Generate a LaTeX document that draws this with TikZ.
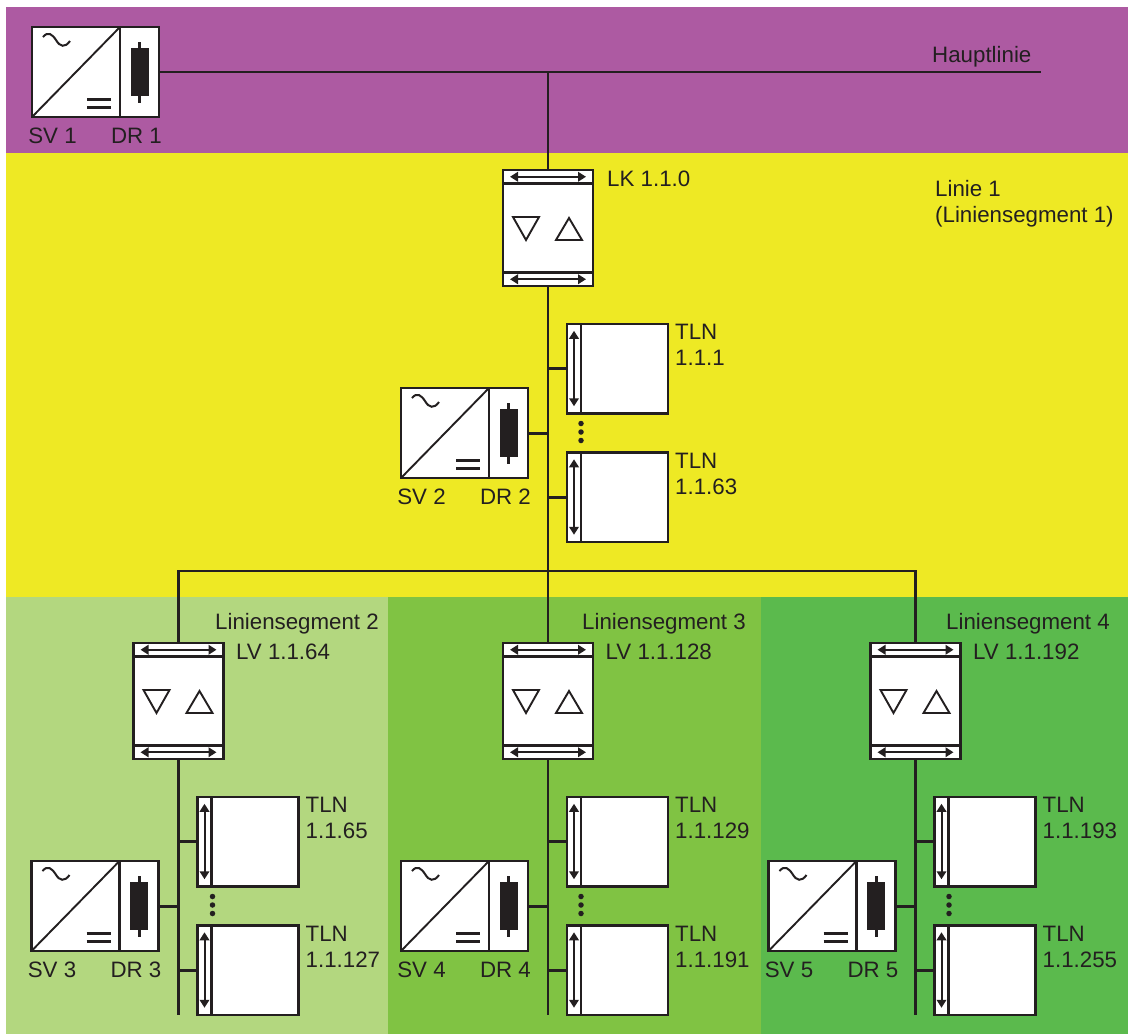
\documentclass[tikz,border=0pt]{standalone}
\usepackage{fontspec}
\setmainfont{Liberation Sans}
\usetikzlibrary{positioning, arrows.meta}
\definecolor{ink}{HTML}{231F20}
\definecolor{hauptbg}{HTML}{AD5AA2}
\definecolor{liniebg}{HTML}{EEE924}
\definecolor{seglight}{HTML}{B3D77F}
\definecolor{segmid}{HTML}{80C343}
\definecolor{segdark}{HTML}{5BBA4D}
\tikzstyle{lbl} = [inner sep=0pt, text=ink, font=\fontsize{22.3}{26}\selectfont, align=left]
\tikzstyle{box} = [rectangle, draw=ink, fill=white, line width=2.5pt, inner sep=0pt, outer sep=0pt]
\tikzstyle{svbox} = [box, minimum width=88pt, minimum height=90pt]
\tikzstyle{drbox} = [box, minimum width=39pt, minimum height=90pt]
\tikzstyle{lvbox} = [box, minimum width=90pt, minimum height=116pt]
\tikzstyle{portbar} = [box, minimum width=90pt, minimum height=13.5pt]
\tikzstyle{tlnbox} = [box, minimum width=101pt, minimum height=89.5pt]
\tikzstyle{tlnport} = [box, minimum width=14pt, minimum height=89.5pt]
\tikzstyle{core} = [rectangle, fill=ink, inner sep=0pt, outer sep=0pt]
\tikzstyle{wire} = [draw=ink, line width=2.5pt]
\tikzstyle{stub} = [draw=ink, line width=3pt]
\tikzstyle{thin arrow} = [draw=ink, line width=2pt, {Stealth[length=8pt,width=9.5pt,inset=0pt]}-{Stealth[length=8pt,width=9.5pt,inset=0pt]}, shorten <=7pt, shorten >=7pt]
\tikzstyle{glyph} = [draw=ink, line width=1.9pt]
\tikzstyle{dotmark} = [circle, fill=ink, inner sep=0pt, minimum size=5.5pt]

% supply: names, position, labels
\newcommand{\supply}[5]{
\node[svbox, #3] (#1) {};
\node[drbox, anchor=west] (#2) at (#1.east) {};
\draw[glyph] (#1.south west) -- (#1.north east);
\node[core, minimum width=18pt, minimum height=48pt] (#2c) at (#2.center) {};
\node[core, minimum width=3pt, minimum height=61pt] (#2s) at (#2.center) {};
\begin{scope}[shift={(#1.center)}]
\draw[glyph, line width=2pt] (-33,-35) .. controls (-28,-41) and (-24,-38) .. (-20,-32) .. controls (-16,-25) and (-11,-24) .. (-6,-31);
\draw[stub] (11,27) -- (35,27) (11,35) -- (35,35);
\end{scope}
\node[lbl, anchor=base, xshift=-23.5pt, yshift=-26pt] (#1l) at (#1.south) {#4};
\node[lbl, anchor=base, xshift=-3pt, yshift=-26pt] (#2l) at (#2.south) {#5};
}

% coupler: name, position, label, label gap
\newcommand{\coupler}[4]{
\node[lvbox, #2] (#1) {};
\node[portbar, anchor=north] (#1t) at (#1.north) {};
\node[portbar, anchor=south] (#1b) at (#1.south) {};
\draw[wire, line width=3.4pt] (#1t.south west) -- (#1t.south east);
\draw[wire, line width=3.4pt] (#1b.north west) -- (#1b.north east);
\draw[thin arrow] (#1t.west) -- (#1t.east);
\draw[thin arrow] (#1b.west) -- (#1b.east);
\begin{scope}[shift={(#1.center)}]
\draw[glyph] (-35,-11) -- (-9,-11) -- (-22,12) -- cycle;
\draw[glyph] (8,12) -- (34,12) -- (21,-10) -- cycle;
\end{scope}
\node[lbl, anchor=base west, xshift=#4, yshift=-16pt] (#1l) at (#1.north east) {#3};
}

% device: name, position, label
\newcommand{\device}[3]{
\node[tlnbox, #2] (#1) {};
\node[tlnport, anchor=west] (#1p) at (#1.west) {};
\draw[thin arrow] (#1p.north) -- (#1p.south);
\node[lbl, anchor=north west, xshift=7pt, yshift=-0.5pt] (#1l) at (#1.north east) {#3};
}

% three dots between two devices
\newcommand{\dotcolumn}[2]{
\node[dotmark] (#1a) at (#2) {};
\node[dotmark, above of=#1a, node distance=8.5pt] (#1b) {};
\node[dotmark, below of=#1a, node distance=8.5pt] (#1c) {};
}

\begin{document}
\begin{tikzpicture}[x=1pt, y=-1pt, node distance=100pt]

\useasboundingbox (0,0) rectangle (1128,1034);
\fill[hauptbg] (6,7) rectangle (1128,153);
\fill[liniebg] (6,153) rectangle (1128,597);
\fill[seglight] (6,597) rectangle (388,1034);
\fill[segmid] (388,597) rectangle (761,1034);
\fill[segdark] (761,597) rectangle (1128,1034);

% main line
\supply{sv1}{dr1}{at={(76,72)}}{SV 1}{DR 1}
\node[lbl, anchor=base west] (hl) at (932,62) {Hauptlinie};
\coordinate (hlend) at (1041,72);

% line 1
\coupler{lk}{at={(548,228)}}{LK 1.1.0}{14pt}
\node[lbl, anchor=base west] (l1) at (935,222) {Linie 1\\(Liniensegment 1)};
\device{t1}{below of = lk, xshift = 69.5pt, yshift = -40.5pt}{TLN\\1.1.1}
\device{t63}{below of = t1, yshift = -28.5pt}{TLN\\1.1.63}
\supply{sv2}{dr2}{below of = lk, xshift = -103pt, yshift = -105pt}{SV 2}{DR 2}

% segments
\coupler{lv2}{below of = lk, yshift = -373pt}{LV 1.1.128}{12.5pt}
\coupler{lv1}{left of = lv2, xshift = -269.5pt}{LV 1.1.64}{12.5pt}
\coupler{lv3}{right of = lv2, xshift = 267.5pt}{LV 1.1.192}{12.5pt}
\node[lbl, anchor=base east] (s2) at (379,629) {Liniensegment 2};
\node[lbl, anchor=base east] (s3) at (746,629) {Liniensegment 3};
\node[lbl, anchor=base east] (s4) at (1110,629) {Liniensegment 4};

\device{t65}{below of = lv1, xshift = 69.5pt, yshift = -40.5pt}{TLN\\1.1.65}
\device{t127}{below of = t65, yshift = -28.5pt}{TLN\\1.1.127}
\supply{sv3}{dr3}{below of = lv1, xshift = -103pt, yshift = -105pt}{SV 3}{DR 3}

\device{t129}{below of = lv2, xshift = 69.5pt, yshift = -40.5pt}{TLN\\1.1.129}
\device{t191}{below of = t129, yshift = -28.5pt}{TLN\\1.1.191}
\supply{sv4}{dr4}{below of = lv2, xshift = -103pt, yshift = -105pt}{SV 4}{DR 4}

\device{t193}{below of = lv3, xshift = 69.5pt, yshift = -40.5pt}{TLN\\1.1.193}
\device{t255}{below of = t193, yshift = -28.5pt}{TLN\\1.1.255}
\supply{sv5}{dr5}{below of = lv3, xshift = -103pt, yshift = -105pt}{SV 5}{DR 5}

% wires
\draw[wire] (dr1.east) -- (hlend);
\draw[wire] (lk.north) -- (lk.north |- hlend);
\draw[wire] (lk.south) -- (lv2.north);
\draw[stub] (t1.west) -- (t1.west -| lk.south);
\draw[stub] (t63.west) -- (t63.west -| lk.south);
\draw[stub] (dr2.east) -- (dr2.east -| lk.south);
\draw[wire] (lv1.north) |- (lv3.north |- 0,571) -- (lv3.north);

\draw[wire] (lv1.south) -- (lv1.south |- t127.south);
\draw[stub] (t65.west) -- (t65.west -| lv1.south);
\draw[stub] (t127.west) -- (t127.west -| lv1.south);
\draw[stub] (dr3.east) -- (dr3.east -| lv1.south);

\draw[wire] (lv2.south) -- (lv2.south |- t191.south);
\draw[stub] (t129.west) -- (t129.west -| lv2.south);
\draw[stub] (t191.west) -- (t191.west -| lv2.south);
\draw[stub] (dr4.east) -- (dr4.east -| lv2.south);

\draw[wire] (lv3.south) -- (lv3.south |- t255.south);
\draw[stub] (t193.west) -- (t193.west -| lv3.south);
\draw[stub] (t255.west) -- (t255.west -| lv3.south);
\draw[stub] (dr5.east) -- (dr5.east -| lv3.south);

\dotcolumn{da}{581,432}
\dotcolumn{db}{212.5,905}
\dotcolumn{dc}{581,905}
\dotcolumn{dd}{949,905}

\end{tikzpicture}
\end{document}
